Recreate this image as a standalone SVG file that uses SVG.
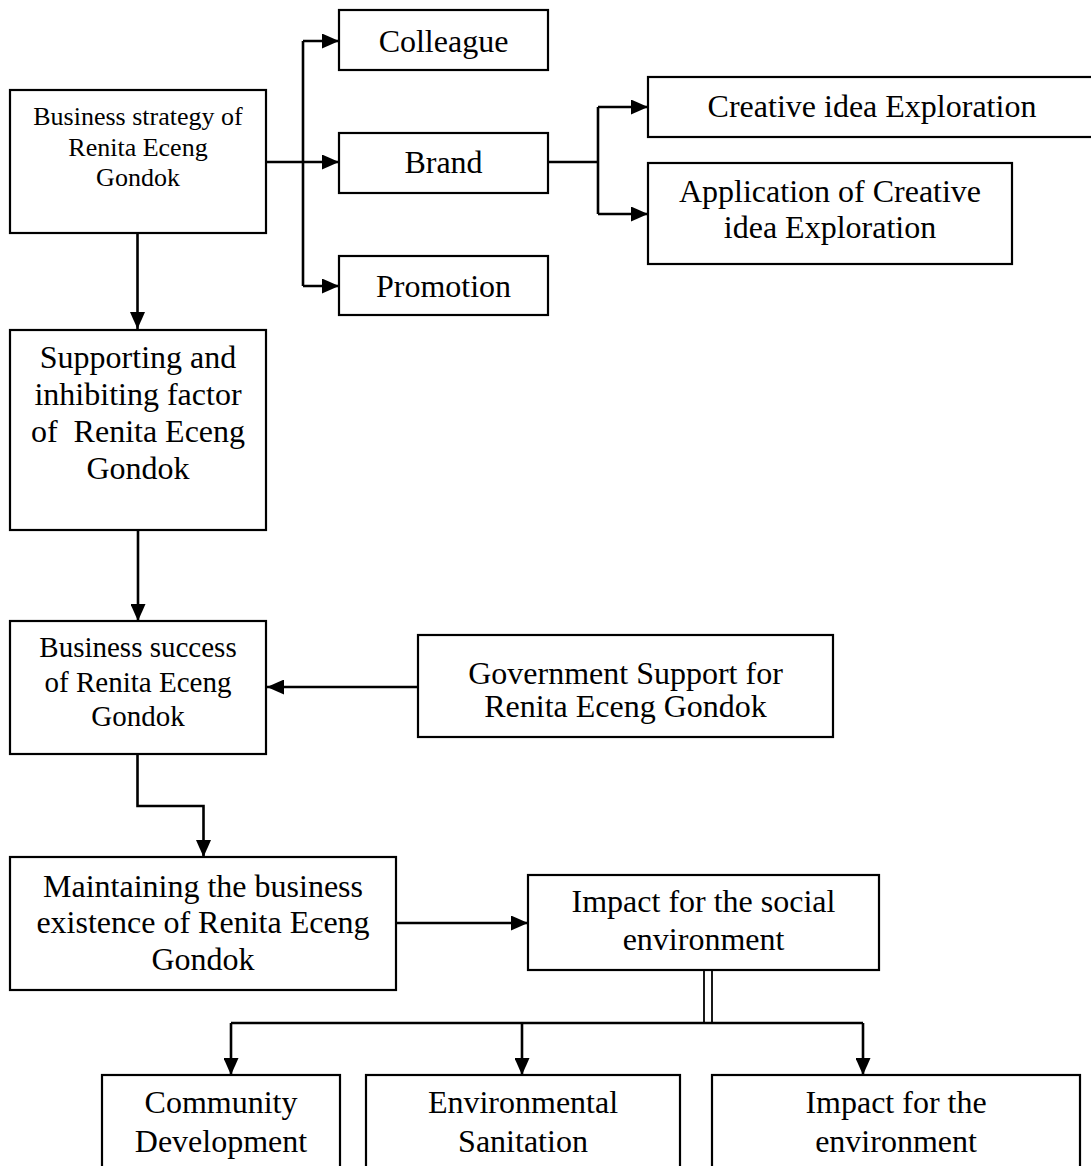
<svg xmlns="http://www.w3.org/2000/svg" width="1091" height="1166" viewBox="0 0 1091 1166">
  <style>
    .box { fill: #ffffff; stroke: #000000; stroke-width: 2.2; }
    .t { font-family: "Liberation Serif", "Times New Roman", serif; font-size: 32px; fill: #000000; text-anchor: middle; }
    .s26 { font-size: 26px; }
    .s29 { font-size: 29px; }
    .c { fill: none; stroke: #000000; stroke-width: 2.6; }
    .thin { fill: none; stroke: #000000; stroke-width: 1.8; }
  </style>
  <defs>
    <marker id="arrow" markerUnits="userSpaceOnUse" markerWidth="17" markerHeight="15" refX="17" refY="7.5" orient="auto">
      <path d="M0,0 L17,7.5 L0,15 z" fill="#000000"/>
    </marker>
  </defs>
  <rect width="1091" height="1166" fill="#ffffff"/>

  <g id="connectors">
    <path class="c" d="M266,162 H303"/>
    <path class="c" d="M303,41 V286"/>
    <path class="c" d="M303,41 H339" marker-end="url(#arrow)"/>
    <path class="c" d="M303,162 H339" marker-end="url(#arrow)"/>
    <path class="c" d="M303,286 H339" marker-end="url(#arrow)"/>
    <path class="c" d="M548,162 H598"/>
    <path class="c" d="M598,107 V214"/>
    <path class="c" d="M598,107 H648" marker-end="url(#arrow)"/>
    <path class="c" d="M598,214 H648" marker-end="url(#arrow)"/>
    <path class="c" d="M137.5,233 V329" marker-end="url(#arrow)"/>
    <path class="c" d="M138,530 V621" marker-end="url(#arrow)"/>
    <path class="c" d="M418,687 H267" marker-end="url(#arrow)"/>
    <path class="c" d="M137.5,754 V806 H203.5 V857" marker-end="url(#arrow)"/>
    <path class="c" d="M396,923 H528" marker-end="url(#arrow)"/>
    <path class="thin" d="M704,970 V1023"/>
    <path class="thin" d="M712,970 V1023"/>
    <path class="c" d="M231,1023 H863"/>
    <path class="c" d="M231,1023 V1075" marker-end="url(#arrow)"/>
    <path class="c" d="M522,1023 V1075" marker-end="url(#arrow)"/>
    <path class="c" d="M863,1023 V1075" marker-end="url(#arrow)"/>
  </g>

  <g id="colleague">
    <rect class="box" x="339" y="10" width="209" height="60"/>
    <text class="t" x="443.5" y="52">Colleague</text>
  </g>
  <g id="strategy">
    <rect class="box" x="10" y="90" width="256" height="143"/>
    <text class="t s26" x="138" y="125">Business strategy of</text>
    <text class="t s26" x="138" y="156">Renita Eceng</text>
    <text class="t s26" x="138" y="186">Gondok</text>
  </g>
  <g id="brand">
    <rect class="box" x="339" y="133" width="209" height="60"/>
    <text class="t" x="443.5" y="173">Brand</text>
  </g>
  <g id="promotion">
    <rect class="box" x="339" y="256" width="209" height="59"/>
    <text class="t" x="443.5" y="297">Promotion</text>
  </g>
  <g id="creative">
    <rect class="box" x="648" y="77" width="446" height="60"/>
    <text class="t" x="872" y="117">Creative idea Exploration</text>
  </g>
  <g id="application">
    <rect class="box" x="648" y="163" width="364" height="101"/>
    <text class="t" x="830" y="202">Application of Creative</text>
    <text class="t" x="830" y="238">idea Exploration</text>
  </g>
  <g id="supporting">
    <rect class="box" x="10" y="330" width="256" height="200"/>
    <text class="t" x="138" y="368">Supporting and</text>
    <text class="t" x="138" y="405">inhibiting factor</text>
    <text class="t" x="138" y="442" xml:space="preserve">of  Renita Eceng</text>
    <text class="t" x="138" y="479">Gondok</text>
  </g>
  <g id="success">
    <rect class="box" x="10" y="621" width="256" height="133"/>
    <text class="t s29" x="138" y="657">Business success</text>
    <text class="t s29" x="138" y="692">of Renita Eceng</text>
    <text class="t s29" x="138" y="726">Gondok</text>
  </g>
  <g id="government">
    <rect class="box" x="418" y="635" width="415" height="102"/>
    <text class="t" x="625.5" y="684">Government Support for</text>
    <text class="t" x="625.5" y="717">Renita Eceng Gondok</text>
  </g>
  <g id="maintaining">
    <rect class="box" x="10" y="857" width="386" height="133"/>
    <text class="t" x="203" y="897">Maintaining the business</text>
    <text class="t" x="203" y="933">existence of Renita Eceng</text>
    <text class="t" x="203" y="970">Gondok</text>
  </g>
  <g id="impact-social">
    <rect class="box" x="528" y="875" width="351" height="95"/>
    <text class="t" x="703.5" y="912">Impact for the social</text>
    <text class="t" x="703.5" y="950">environment</text>
  </g>
  <g id="community">
    <rect class="box" x="102" y="1075" width="238" height="100"/>
    <text class="t" x="221" y="1113">Community</text>
    <text class="t" x="221" y="1152">Development</text>
  </g>
  <g id="sanitation">
    <rect class="box" x="366" y="1075" width="314" height="100"/>
    <text class="t" x="523" y="1113">Environmental</text>
    <text class="t" x="523" y="1152">Sanitation</text>
  </g>
  <g id="impact-env">
    <rect class="box" x="712" y="1075" width="368" height="100"/>
    <text class="t" x="896" y="1113">Impact for the</text>
    <text class="t" x="896" y="1152">environment</text>
  </g>
</svg>
